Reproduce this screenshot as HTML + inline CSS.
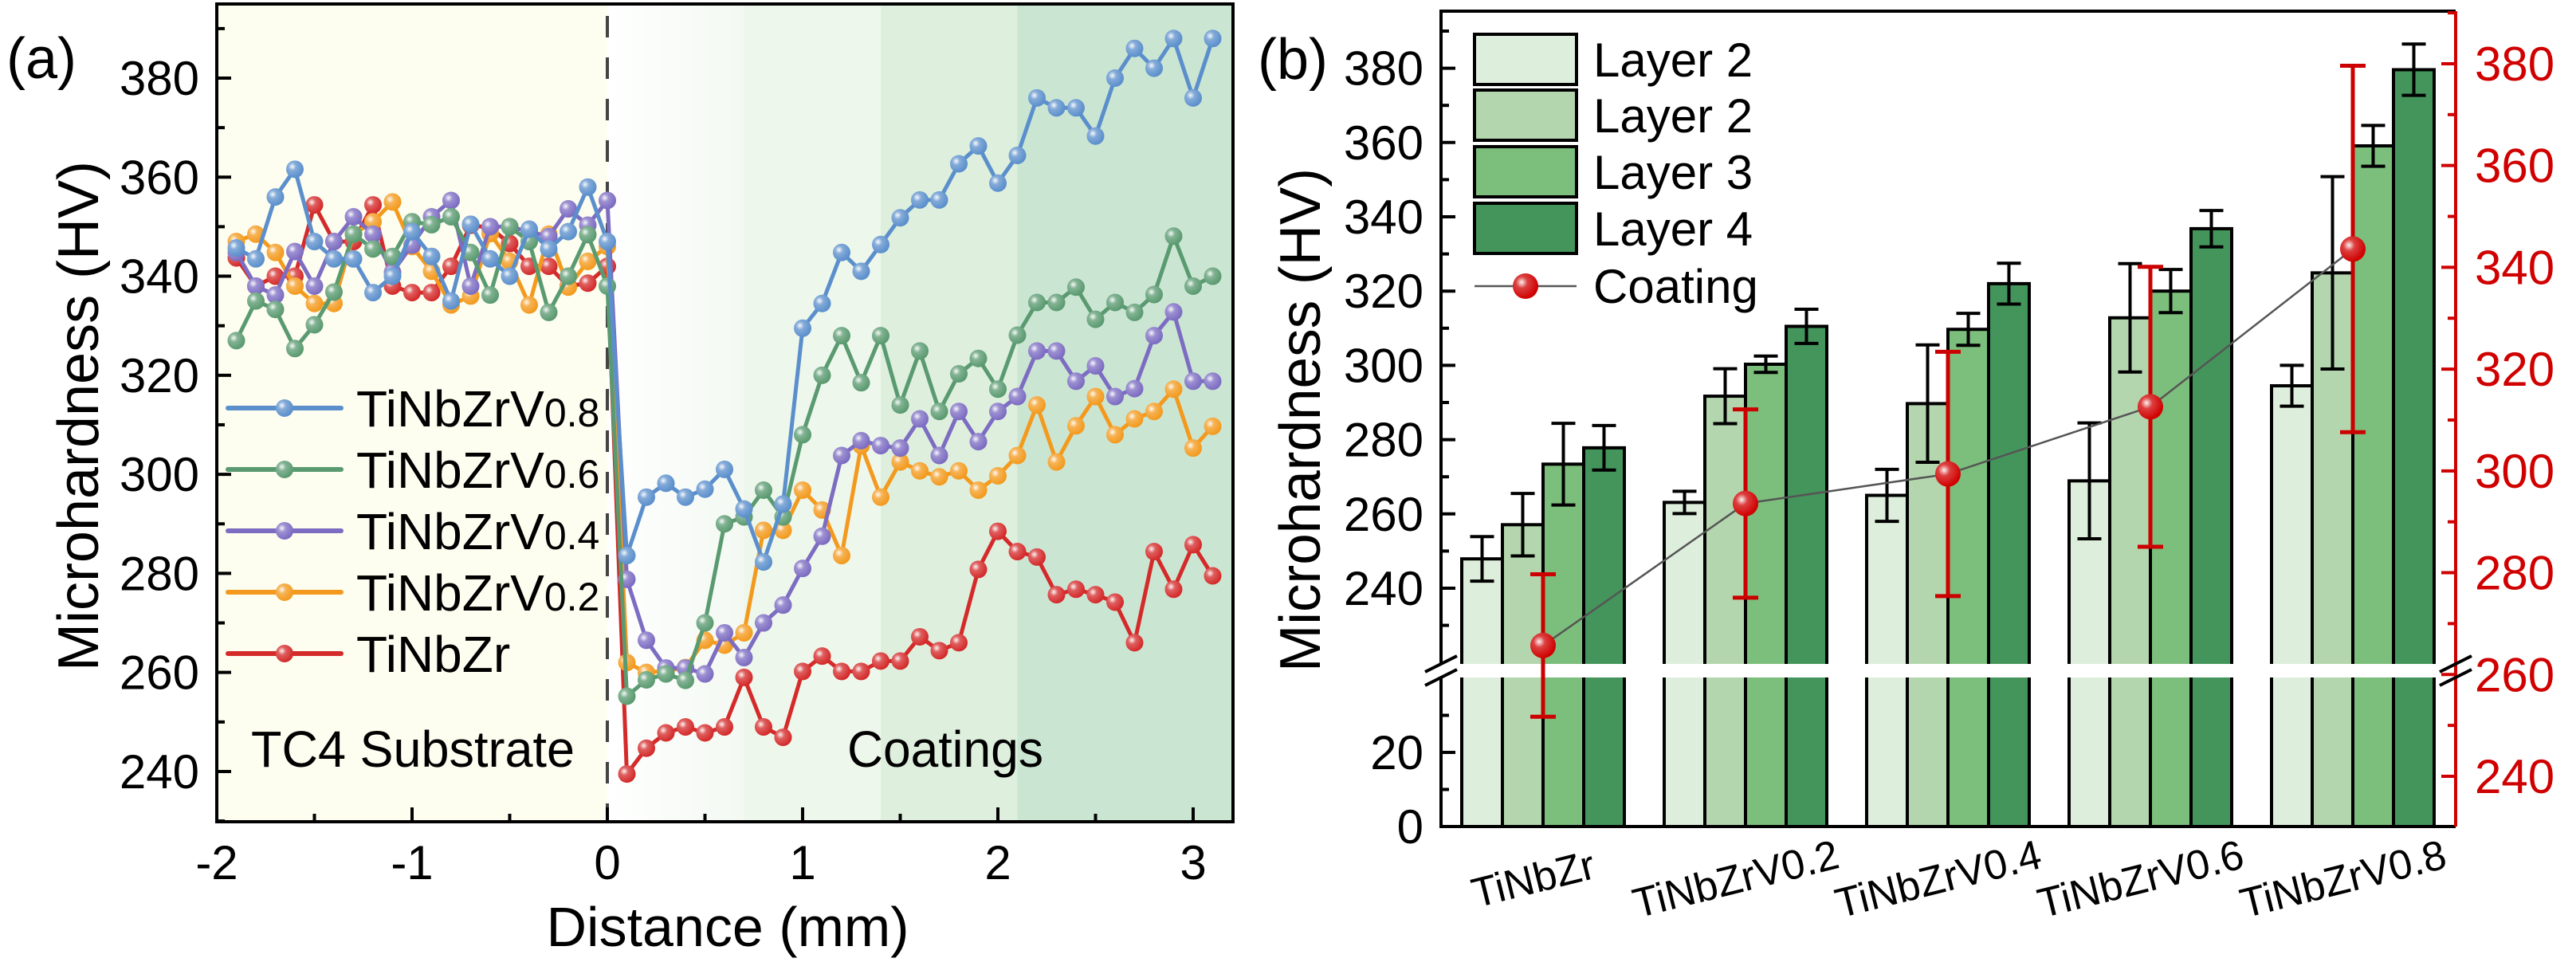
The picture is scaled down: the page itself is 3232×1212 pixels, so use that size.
<!DOCTYPE html>
<html><head><meta charset="utf-8"><style>
html,body{margin:0;padding:0;background:#fff;}
svg{display:block;font-family:"Liberation Sans",Arial,sans-serif;}
</style></head><body>
<svg id="fig" width="3232" height="1212" viewBox="0 0 3232 1212" xmlns="http://www.w3.org/2000/svg">
<defs>
<radialGradient id="gwhite" cx="0.35" cy="0.35" r="0.65"><stop offset="0" stop-color="#fff" stop-opacity="0.95"/><stop offset="0.35" stop-color="#fff" stop-opacity="0.25"/><stop offset="1" stop-color="#fff" stop-opacity="0"/></radialGradient>
<linearGradient id="fadeG" x1="0" x2="1" y1="0" y2="0"><stop offset="0" stop-color="#ffffff"/><stop offset="1" stop-color="#f3f9f2"/></linearGradient>
</defs>
<g id="pa"></g>
<g id="pb"></g>
</svg>
<script>
// ---------- Panel (a) data ----------
const distSub = [-1.9,-1.8,-1.7,-1.6,-1.5,-1.4,-1.3,-1.2,-1.1,-1.0,-0.9,-0.8,-0.7,-0.6,-0.5,-0.4,-0.3,-0.2,-0.1,0];
const distCoat = [0.1,0.2,0.3,0.4,0.5,0.6,0.7,0.8,0.9,1.0,1.1,1.2,1.3,1.4,1.5,1.6,1.7,1.8,1.9,2.0,2.1,2.2,2.3,2.4,2.5,2.6,2.7,2.8,2.9,3.0,3.1];
const seriesNames = ["TiNbZrV0.8","TiNbZrV0.6","TiNbZrV0.4","TiNbZrV0.2","TiNbZr"];
const v08 = [345.7,343.5,356,361.6,347,343.5,343.5,336.7,340,349,344,335,350.5,343.5,340,349.5,345.5,349,358,347,
 283.6,295.4,298.2,295.4,297,301,293,282.3,294,329.5,334.5,344.8,341,346.4,351.8,355.4,355.4,362.7,366.3,358.8,364.4,376,374,374,368.3,380,386,382,388,376,388];
const v06 = [327,335,333.3,325.4,330.2,336.8,348.5,345.5,344,351,350.4,352,344.8,336.2,350,347,332.7,340,348.4,338,
 255.2,258.5,259.7,258.4,270,290,291.4,296.8,291.4,308,320,328,318.5,328,314,324.9,312.7,320.3,323.4,317.2,328.1,334.7,334.7,337.8,331.3,334.7,332.7,336.3,348.1,338,340];
const v04 = [344.8,338,336.2,345,338,347,352,348.5,340.8,346.3,352,355.3,338,350,350,349,348,353.6,350.3,355.3,
 278.8,266.5,260.9,260.9,259.7,268,263,270,273.6,281,287.5,303.8,306.8,305.8,305.3,311.2,303.8,312.7,306.6,312.7,315.7,324.9,324.9,318.8,321.9,315.7,317.3,328,332.8,318.8,318.8];
const v02 = [347,348.5,344.8,338,334.5,334.5,348.5,351,355,346,341,334.2,336,348.6,343,334.2,348.5,337.8,343,346,
 262,260,260.3,261,266.5,265.5,268,288.7,288.7,296.8,292.8,283.6,305.8,295.4,302.5,300.7,299.5,300.7,296.8,299.7,303.8,314,302.5,309.8,315.7,308,311.2,312.7,317.2,305.3,309.7];
const v00 = [343.7,338,340,340,354.4,347,347,354.4,338,336.7,336.7,342,350.3,349.8,346.6,342,342,338,338.6,342,
 239.5,244.7,247.8,249,247.8,249,259,249,246.9,260.2,263.3,260.2,260.2,262.3,262.3,267.2,264.4,266,280.8,288.5,284.4,283.3,275.7,276.8,275.7,274.2,266,284.4,276.8,285.8,279.5];
const xTicksA = [-2,-1,0,1,2,3];
const yTicksA = [240,260,280,300,320,340,360,380];

// ---------- Panel (b) data ----------
const categories = ["TiNbZr","TiNbZrV0.2","TiNbZrV0.4","TiNbZrV0.6","TiNbZrV0.8"];
const layerNames = ["Layer 2","Layer 2","Layer 3","Layer 4"];
const layer1 = [247.9,263.1,265,268.9,294.5];
const layer1Err = [6,3,7,15.6,5.5];
const layer2 = [257.1,291.7,289.7,312.8,324.9];
const layer2Err = [8.4,7.4,15.8,14.6,25.9];
const layer3 = [273.4,300.3,309.7,320,359.1];
const layer3Err = [11,2.2,4.3,5.8,5.5];
const layer4 = [277.8,310.5,322,336.8,379.6];
const layer4Err = [6,4.6,5.5,4.9,6.9];
const coating = [265.7,293.6,299.4,312.6,343.6];
const coatingErr = [14,18.5,24,27.5,36];
const yTicksBUpper = [240,260,280,300,320,340,360,380];
const yTicksBLower = [0,20];
const yTicksBRight = [240,260,280,300,320,340,360,380];

const NS = "http://www.w3.org/2000/svg";
function mk(parent, tag, attrs){const e=document.createElementNS(NS,tag);for(const k in attrs)e.setAttribute(k,attrs[k]);parent.appendChild(e);return e;}
const pa=document.getElementById('pa'), pb=document.getElementById('pb');

// ===== Panel A =====
const xa = d => 272 + (d + 2) * 245;
const ya = v => 98 + (380 - v) * 6.214;
const AL=272, AR=1547, AT=5, AB=1031;
let e;
e=mk(pa,'rect',{x:AL,y:AT,width:xa(0)-AL,height:AB-AT,fill:'#fdfdf0'});


e=mk(pa,'rect',{x:xa(0),y:AT,width:xa(0.7)-xa(0),height:AB-AT,fill:'url(#fadeG)'});


e=mk(pa,'rect',{x:xa(0.7),y:AT,width:xa(1.4)-xa(0.7),height:AB-AT,fill:'#eef7ec'});


e=mk(pa,'rect',{x:xa(1.4),y:AT,width:xa(2.1)-xa(1.4),height:AB-AT,fill:'#deefdd'});


e=mk(pa,'rect',{x:xa(2.1),y:AT,width:AR-xa(2.1),height:AB-AT,fill:'#cbe5d3'});


e=mk(pa,'line',{x1:xa(0),x2:xa(0),y1:AT+15,y2:AB,stroke:'#444',['stroke-width']:4,['stroke-dasharray']:'27 25'});



const colors=['#5b8fcc','#5a9a70','#7c6cc2','#f39a1e','#d42a2a'];
const allVals=[v08,v06,v04,v02,v00];
const allDist=distSub.concat(distCoat);
for(let s=4;s>=0;s--){
  const vals=allVals[s];
  const pts=vals.map((v,i)=>xa(allDist[i]).toFixed(1)+','+ya(v).toFixed(1)).join(' ');
  const pl=mk(pa,'polyline',{points:pts,fill:'none',stroke:colors[s],['stroke-width']:5,['stroke-linejoin']:'round'});
  
  
  vals.forEach((v,i)=>{
    const c=mk(pa,'circle',{cx:xa(allDist[i]),cy:ya(v),r:11,fill:colors[s]});
    
    
    const h=mk(pa,'circle',{cx:xa(allDist[i]),cy:ya(v),r:11,fill:'url(#gwhite)'});
    
    
  });
}
// frame
e=mk(pa,'rect',{x:AL,y:AT,width:AR-AL,height:AB-AT,fill:'none',stroke:'#000',['stroke-width']:4});


// x ticks
for(let d=-2;d<=3.01;d+=0.5){
  const major=Math.abs(d-Math.round(d))<0.01;
  const t=mk(pa,'line',{x1:xa(d),x2:xa(d),y1:AB,y2:AB-(major?18:10),stroke:'#000',['stroke-width']:4});
  
  
}
xTicksA.forEach(d=>{
  const t=mk(pa,'text',{x:xa(d),y:1103,['font-size']:60,['text-anchor']:'middle',fill:'#000'});
  t.textContent=String(d);
  
  
});
for(let v=230;v<=395;v+=10){
  const major=v%20===0;
  const t=mk(pa,'line',{x1:AL,x2:AL+(major?18:10),y1:ya(v),y2:ya(v),stroke:'#000',['stroke-width']:4});
  
  
}
yTicksA.forEach(v=>{
  const t=mk(pa,'text',{x:250,y:ya(v)+21,['font-size']:60,['text-anchor']:'end',fill:'#000'});
  t.textContent=String(v);
  
  
});
e=mk(pa,'text',{x:913,y:1187,['font-size']:70,['text-anchor']:'middle'});
e.textContent='Distance (mm)';


e=mk(pa,'text',{x:0,y:0,['font-size']:72,['text-anchor']:'middle',transform:'translate(123,522) rotate(-90)',textLength:640,lengthAdjust:'spacingAndGlyphs'});
e.textContent='Microhardness (HV)';


e=mk(pa,'text',{x:8,y:98,['font-size']:72});
e.textContent='(a)';


e=mk(pa,'text',{x:315,y:962,['font-size']:64,textLength:406,lengthAdjust:'spacingAndGlyphs'});
e.textContent='TC4 Substrate';


e=mk(pa,'text',{x:1063,y:962,['font-size']:64,textLength:246,lengthAdjust:'spacingAndGlyphs'});
e.textContent='Coatings';


// legend a
const legY=[512,589,666,743,820];
seriesNames.forEach((n,i)=>{
  const g=mk(pa,'g',{});
  
  
  const l=mk(g,'line',{x1:286,x2:428,y1:legY[i],y2:legY[i],stroke:colors[i],['stroke-width']:6,['stroke-linecap']:'round'});
  
  
  const c=mk(g,'circle',{cx:357,cy:legY[i],r:11,fill:colors[i]});
  
  
  const h=mk(g,'circle',{cx:357,cy:legY[i],r:11,fill:'url(#gwhite)'});
  
  
  const t=mk(g,'text',{x:447,y:legY[i]+23,['font-size']:64});
  
  
  if(n.indexOf('V')>=0){
    t.textContent='TiNbZrV';
    const s=mk(t,'tspan',{['font-size']:50});
    s.textContent=n.slice(7);
  } else t.textContent=n;
});

// ===== Panel B =====
const BL=1808, BR=3081, BT=14, BB=1037;
const yL = v => v<=40 ? 1037 - v*4.65 : 738 - (v-240)*4.66;
const yR = v => 974 - (v-240)*6.386;
const barX = (g,k) => 1834 + g*254 + k*51;
const barW = 51;
const layerFill=['#deeedc','#b4d6ae','#7cbe7c','#44955c'];
const layers=[layer1,layer2,layer3,layer4];
const layerErrs=[layer1Err,layer2Err,layer3Err,layer4Err];
categories.forEach((cat,g)=>{
  layers.forEach((arr,k)=>{
    const v=arr[g];
    const b=mk(pb,'rect',{x:barX(g,k),y:yL(v),width:barW,height:BB-yL(v),fill:layerFill[k],stroke:'#000',['stroke-width']:4});
    
    
  });
});
// break band
e=mk(pb,'rect',{x:BL-2,y:833,width:BR-BL+4,height:17,fill:'#fff'});


// error bars layers
categories.forEach((cat,g)=>{
  layers.forEach((arr,k)=>{
    const v=arr[g], er=layerErrs[k][g], cx=barX(g,k)+barW/2;
    const eg=mk(pb,'path',{d:`M${cx},${yL(v+er)}V${yL(v-er)}M${cx-15},${yL(v+er)}h30M${cx-15},${yL(v-er)}h30`,stroke:'#000',['stroke-width']:4,fill:'none'});
    
    
  });
});
// coating line
const cpts=coating.map((v,g)=>(barX(g,2)).toFixed(1)+','+yR(v).toFixed(1)).join(' ');
e=mk(pb,'polyline',{points:cpts,fill:'none',stroke:'#555',['stroke-width']:2.5});


coating.forEach((v,g)=>{
  const cx=barX(g,2), er=coatingErr[g];
  const eb=mk(pb,'path',{d:`M${cx},${yR(v+er)}V${yR(v-er)}M${cx-16},${yR(v+er)}h32M${cx-16},${yR(v-er)}h32`,stroke:'#cc0000',['stroke-width']:5,fill:'none'});
  
  
  const c=mk(pb,'circle',{cx:cx,cy:yR(v),r:16,fill:'#d00000'});
  
  
  const h=mk(pb,'circle',{cx:cx,cy:yR(v),r:16,fill:'url(#gwhite)'});
  
  
});
// axes
e=mk(pb,'path',{d:`M${BL},833V${BT}H${BR}`,fill:'none',stroke:'#000',['stroke-width']:4});


e=mk(pb,'path',{d:`M${BL},850V${BB}H${BR}`,fill:'none',stroke:'#000',['stroke-width']:4});


e=mk(pb,'line',{x1:BR,x2:BR,y1:BT,y2:BB,stroke:'#d00000',['stroke-width']:4});


// break marks
[[BL,833],[BL,850],[BR,833],[BR,850]].forEach(p=>{
  const l=mk(pb,'line',{x1:p[0]-20,y1:p[1]+10,x2:p[0]+20,y2:p[1]-10,stroke:'#000',['stroke-width']:4});
  
  
});
// left ticks
for(let v=230;v<=390;v+=10){
  const major=v%20===0;
  const t=mk(pb,'line',{x1:BL,x2:BL+(major?18:10),y1:yL(v),y2:yL(v),stroke:'#000',['stroke-width']:4});
  
  
}
for(let v=0;v<=30;v+=10){
  const t=mk(pb,'line',{x1:BL,x2:BL+(v%20===0?18:10),y1:yL(v),y2:yL(v),stroke:'#000',['stroke-width']:4});
  
  
}
yTicksBUpper.concat(yTicksBLower).forEach(v=>{
  const t=mk(pb,'text',{x:1786,y:yL(v)+21,['font-size']:60,['text-anchor']:'end'});
  t.textContent=String(v);
  
  
});
for(let v=240;v<=390;v+=10){
  const major=v%20===0;
  const t=mk(pb,'line',{x1:BR,x2:BR-(major?18:10),y1:yR(v),y2:yR(v),stroke:'#d00000',['stroke-width']:4});
  
  
}
yTicksBRight.forEach(v=>{
  const t=mk(pb,'text',{x:3105,y:yR(v)+21,['font-size']:60,fill:'#d00000'});
  t.textContent=String(v);
  
  
});
categories.forEach((cat,g)=>{
  const cx=barX(g,2);
  const t=mk(pb,'text',{x:0,y:0,['font-size']:52,['text-anchor']:'middle',transform:`translate(${cx-8},${1120}) rotate(-14)`});
  t.textContent=cat;
  
  
});
e=mk(pb,'text',{x:0,y:0,['font-size']:72,['text-anchor']:'middle',transform:'translate(1656,527) rotate(-90)',textLength:632,lengthAdjust:'spacingAndGlyphs'});
e.textContent='Microhardness (HV)';


e=mk(pb,'text',{x:1578,y:99,['font-size']:72});
e.textContent='(b)';


// legend b
const boxY=[43,113,184,255];
layerNames.forEach((n,k)=>{
  const g=mk(pb,'g',{});
  
  
  const r=mk(g,'rect',{x:1850,y:boxY[k],width:128,height:63,fill:layerFill[k],stroke:'#000',['stroke-width']:4});
  
  
  const t=mk(g,'text',{x:1999,y:boxY[k]+53,['font-size']:60});
  t.textContent=n;
  
  
});
{
  const g=mk(pb,'g',{});
  
  
  const l=mk(g,'line',{x1:1850,x2:1978,y1:359,y2:359,stroke:'#555',['stroke-width']:2.5});
  
  
  const c=mk(g,'circle',{cx:1914,cy:359,r:16,fill:'#d00000'});
  
  
  const h=mk(g,'circle',{cx:1914,cy:359,r:16,fill:'url(#gwhite)'});
  
  
  const t=mk(g,'text',{x:1999,y:380,['font-size']:60});
  t.textContent='Coating';
  
  
}
</script>
</body></html>
